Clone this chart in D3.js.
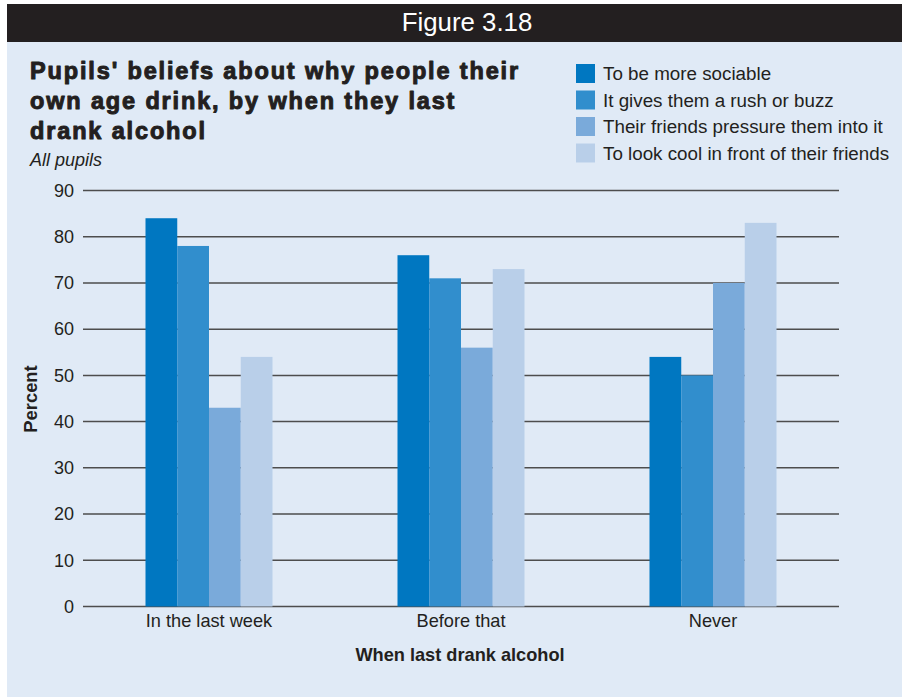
<!DOCTYPE html>
<html>
<head>
<meta charset="utf-8">
<script src="https://cdn.jsdelivr.net/npm/d3@7"></script>
<style>
  html, body { margin: 0; padding: 0; background: #ffffff; }
  svg { display: block; }
</style>
</head>
<body>
<svg id="chart" width="902" height="697"></svg>
<script>
// Categories along the x axis
const categories = ["In the last week", "Before that", "Never"];

// Reasons (series) and their colours
const seriesNames = [
  "To be more sociable",
  "It gives them a rush or buzz",
  "Their friends pressure them into it",
  "To look cool in front of their friends"
];
const seriesColors = ["#0077c1", "#318ecd", "#7aaada", "#b9cfe9"];

// Percent values, one array per series, ordered as categories
const sociable = [84, 76, 54];
const rushBuzz = [78, 71, 50];
const pressure = [43, 56, 70];
const lookCool = [54, 73, 83];
const seriesValues = [sociable, rushBuzz, pressure, lookCool];

// Y axis ticks
const yTicks = [0, 10, 20, 30, 40, 50, 60, 70, 80, 90];

const svg = d3.select("#chart");
const W = 902, H = 697;
const font = "'Liberation Sans', Arial, sans-serif";

// Panel background and header band
svg.append("rect").attr("x", 7).attr("y", 4).attr("width", W - 7).attr("height", H - 4)
  .attr("fill", "#e0eaf6");
svg.append("rect").attr("x", 7).attr("y", 4).attr("width", W - 7).attr("height", 38)
  .attr("fill", "#231f20");
svg.append("text").attr("x", 467).attr("y", 31).attr("text-anchor", "middle")
  .attr("font-family", "'Liberation Sans Narrow', 'Arial Narrow', " + font)
  .attr("font-size", 25.8).attr("fill", "#ffffff").text("Figure 3.18");

// Title: heavy bold face, letter-spaced so the first line spans the text column
const titleLines = ["Pupils' beliefs about why people their", "own age drink, by when they last", "drank alcohol"];
const title = svg.append("g").selectAll("text").data(titleLines).join("text")
  .attr("x", 30).attr("y", (d, i) => 79 + i * 30)
  .attr("font-family", font).attr("font-weight", "bold")
  .attr("font-size", 23.5).attr("fill", "#231f20")
  .attr("stroke", "#231f20").attr("stroke-width", 1).attr("stroke-linejoin", "round")
  .text(d => d);
const firstLen = title.node().getComputedTextLength();
if (firstLen > 0 && firstLen < 490) {
  title.attr("letter-spacing", (490 - firstLen) / titleLines[0].length);
}

svg.append("text").attr("x", 30).attr("y", 166)
  .attr("font-family", font).attr("font-style", "italic")
  .attr("font-size", 18).attr("fill", "#231f20").text("All pupils");

// Legend
const legend = svg.append("g").attr("transform", "translate(576,64)");
const li = legend.selectAll("g").data(seriesNames).join("g")
  .attr("transform", (d, i) => `translate(0,${i * 26.5})`);
li.append("rect").attr("width", 19).attr("height", 19).attr("fill", (d, i) => seriesColors[i]);
li.append("text").attr("x", 27).attr("y", 16)
  .attr("font-family", font).attr("font-size", 18.8).attr("fill", "#231f20").text(d => d);

// Scales
const plot = { left: 83, right: 839, top: 190.5, bottom: 606.5 };
const y = d3.scaleLinear().domain([0, 90]).range([plot.bottom, plot.top]);
const x0 = d3.scaleBand().domain(categories).range([plot.left, plot.right])
  .paddingInner(0.496).paddingOuter(0.248);
const x1 = d3.scaleBand().domain(d3.range(seriesNames.length)).range([0, x0.bandwidth()]);

// Gridlines
svg.append("g").selectAll("line").data(yTicks).join("line")
  .attr("x1", plot.left).attr("x2", plot.right)
  .attr("y1", d => y(d)).attr("y2", d => y(d))
  .attr("stroke", "#4d4d4d").attr("stroke-width", 1.5);

// Y axis labels
const yAxis = svg.append("g").attr("transform", `translate(${plot.left},0)`)
  .call(d3.axisLeft(y).tickValues(yTicks).tickSize(0).tickPadding(9).tickFormat(d3.format("d")));
yAxis.select(".domain").remove();
yAxis.selectAll("text").attr("font-family", font).attr("font-size", 18).attr("fill", "#231f20");

// Bars
const groups = svg.append("g").selectAll("g").data(categories).join("g")
  .attr("transform", d => `translate(${x0(d)},0)`);
groups.selectAll("rect")
  .data((c, ci) => seriesValues.map((vals, si) => ({ si, v: vals[ci] })))
  .join("rect")
  .attr("x", d => x1(d.si)).attr("width", x1.bandwidth())
  .attr("y", d => y(d.v)).attr("height", d => y(0) - y(d.v))
  .attr("fill", d => seriesColors[d.si]);

// X axis labels
const xAxis = svg.append("g").attr("transform", `translate(0,${plot.bottom})`)
  .call(d3.axisBottom(x0).tickSize(0).tickPadding(8));
xAxis.select(".domain").remove();
xAxis.selectAll("text").attr("font-family", font).attr("font-size", 18.2).attr("fill", "#231f20");

// Axis titles
svg.append("text").attr("x", 460).attr("y", 661).attr("text-anchor", "middle")
  .attr("font-family", font).attr("font-weight", "bold").attr("font-size", 18.2)
  .attr("fill", "#231f20").text("When last drank alcohol");
svg.append("text").attr("transform", "translate(37,399) rotate(-90)").attr("text-anchor", "middle")
  .attr("font-family", font).attr("font-weight", "bold").attr("font-size", 18.4)
  .attr("fill", "#231f20").text("Percent");
</script>
</body>
</html>
